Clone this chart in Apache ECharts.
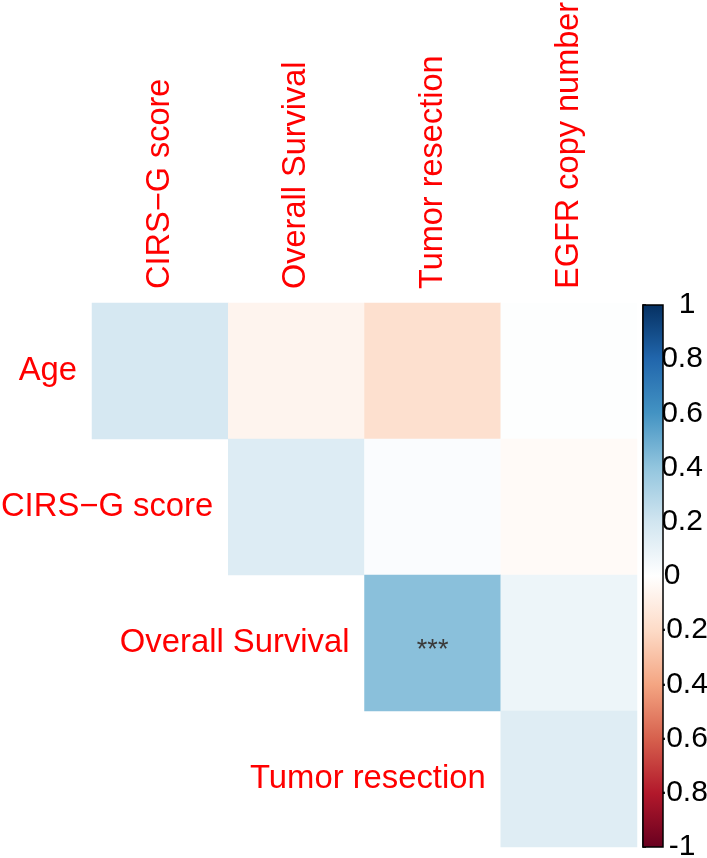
<!DOCTYPE html>
<html>
<head>
<meta charset="utf-8">
<script src="https://cdn.jsdelivr.net/npm/echarts@6/dist/echarts.min.js"></script>
<style>html,body{margin:0;padding:0;background:#fff}#c{width:707px;height:858px}</style>
</head>
<body>
<div id="c"></div>
<script>
// ---- data ----
var rowNames = ['Age', 'CIRS\u2212G score', 'Overall Survival', 'Tumor resection'];
var colNames = ['CIRS\u2212G score', 'Overall Survival', 'Tumor resection', 'EGFR copy number'];
// correlation of each row variable with the column variables (null = not shown)
var ageRow  = [0.18, -0.06, -0.17, 0.01];
var cirsRow = [null, 0.15, 0.02, -0.03];
var osRow   = [null, null, 0.42, 0.08];
var trRow   = [null, null, null, 0.14];
// significance marks
var osSig   = [null, null, '***', null];
var colorbarTicks = [1, 0.8, 0.6, 0.4, 0.2, 0, -0.2, -0.4, -0.6, -0.8, -1];
var palette = ['#67001F', '#B2182B', '#D6604D', '#F4A582', '#FDDBC7', '#FFFFFF',
               '#D1E5F0', '#92C5DE', '#4393C3', '#2166AC', '#053061'];

// ---- build ----
var matrix = [ageRow, cirsRow, osRow, trRow];
var sigs = [[], [], osSig, []];
var cells = [];
matrix.forEach(function (row, r) {
  row.forEach(function (v, c) {
    if (v !== null) cells.push([c, r, v, (sigs[r] && sigs[r][c]) || '']);
  });
});
var rowLabelData = rowNames.map(function (n, r) { return [r, r, n]; });

var FONT = 'Liberation Sans, Arial, sans-serif';
var chart = echarts.init(document.getElementById('c'), null, {renderer: 'canvas'});

function fmtTick(v) {
  var r = Math.round(v * 10) / 10;
  var s = String(Math.abs(r));
  if (r < 0) return '{p|-' + s + '}';
  if (r === 1) return '{one|1}';
  if (r === 0) return '{zero|0}';
  return '{p|' + s + '}';
}

var stops = palette.slice().reverse().map(function (col, i) {
  return {offset: i / (palette.length - 1), color: col};
});
var TS = 30;

chart.setOption({
  animation: false,
  backgroundColor: '#fff',
  grid: [
    {left: 92, top: 303, width: 545, height: 544, outerBoundsMode: 'none', containLabel: false},
    {left: 643, top: 305, width: 20, height: 542, outerBoundsMode: 'none', containLabel: false}
  ],
  xAxis: [
    {type: 'category', data: colNames, gridIndex: 0, position: 'top',
     axisLine: {show: false}, axisTick: {show: false}, splitLine: {show: false},
     axisLabel: {rotate: -90, margin: 14, color: '#FF0000', fontSize: 32.5, fontFamily: FONT, interval: 0}},
    {type: 'value', gridIndex: 1, min: 0, max: 1, show: false}
  ],
  yAxis: [
    {type: 'category', data: rowNames, gridIndex: 0, inverse: true,
     axisLine: {show: false}, axisTick: {show: false}, axisLabel: {show: false}, splitLine: {show: false}},
    {type: 'value', gridIndex: 1, min: -1, max: 1, interval: 0.2, position: 'right',
     axisLine: {show: true, lineStyle: {color: '#000', width: 1.5}},
     axisTick: {show: true, length: 3, lineStyle: {color: '#000', width: 1.5}},
     splitLine: {show: false},
     axisLabel: {margin: 19, align: 'center', formatter: fmtTick, color: '#000', fontFamily: FONT, hideOverlap: false,
       rich: {
         p: {fontSize: TS, fontFamily: FONT, color: '#000'},
         one: {fontSize: TS, fontFamily: FONT, color: '#000', padding: [0, 0, 0, 10]},
         zero: {fontSize: TS, fontFamily: FONT, color: '#000', padding: [0, 20, 0, 0]}
       }}}
  ],
  visualMap: {
    show: false, type: 'continuous', min: -1, max: 1, seriesIndex: 0, dimension: 2,
    inRange: {color: palette}
  },
  series: [
    {
      type: 'heatmap', xAxisIndex: 0, yAxisIndex: 0, data: cells,
      label: {show: true, formatter: function (p) { return p.data[3]; },
              color: '#3a3a3a', fontSize: 27, fontFamily: FONT, offset: [0, 8]},
      itemStyle: {borderWidth: 0},
      emphasis: {disabled: true}
    },
    {
      type: 'custom', xAxisIndex: 0, yAxisIndex: 0, data: rowLabelData, silent: true,
      renderItem: function (params, api) {
        var pt = api.coord([api.value(0), api.value(1)]);
        var sz = api.size([1, 1]);
        return {
          type: 'text',
          style: {
            x: pt[0] - sz[0] / 2 - 15, y: pt[1],
            text: rowNames[params.dataIndex],
            align: 'right', verticalAlign: 'middle',
            fill: '#FF0000', font: '32.8px ' + FONT
          }
        };
      }
    },
    {
      type: 'custom', xAxisIndex: 1, yAxisIndex: 1, data: [[0, -1, 1, 1]], silent: true,
      renderItem: function (params, api) {
        var p0 = api.coord([0, 1]);
        var p1 = api.coord([1, -1]);
        return {
          type: 'rect',
          shape: {x: p0[0], y: p0[1], width: p1[0] - p0[0], height: p1[1] - p0[1]},
          style: {
            fill: new echarts.graphic.LinearGradient(0, 0, 0, 1, stops),
            stroke: '#000', lineWidth: 1.5
          }
        };
      }
    }
  ]
});
</script>
</body>
</html>
